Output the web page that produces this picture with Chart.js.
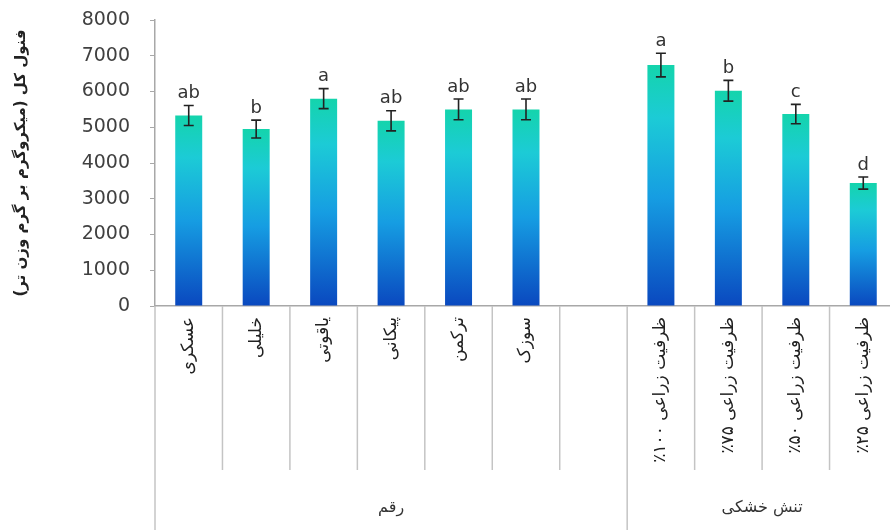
<!DOCTYPE html>
<html>
<head>
<meta charset="utf-8">
<script src="https://cdn.jsdelivr.net/npm/chart.js@4.4.1/dist/chart.umd.min.js"></script>
<style>
    html, body { margin: 0; padding: 0; background: #fff; overflow: hidden; }
    canvas { display: block; direction: rtl; }
</style>
</head>
<body>
<canvas id="phenolChart" width="900" height="530" dir="rtl"></canvas>
<script>
const categories = ['عسکری', 'خلیلی', 'یاقوتی', 'پیکانی', 'ترکمن', 'سوزک', '',
    'ظرفیت زراعی ۱۰۰٪', 'ظرفیت زراعی ۷۵٪', 'ظرفیت زراعی ۵۰٪', 'ظرفیت زراعی ۲۵٪'];
const phenolValues = [5330, 4950, 5800, 5180, 5500, 5500, null, 6740, 6020, 5370, 3440];
const phenolErrors = [280, 250, 280, 280, 290, 290, null, 330, 290, 270, 170];
const letters = ['ab', 'b', 'a', 'ab', 'ab', 'ab', '', 'a', 'b', 'c', 'd'];
const groupNames = ['رقم', 'تنش خشکی'];
const groupFirst = [0, 7];
const groupLast = [6, 10];
const yTitle = 'فنول کل (میکروگرم بر گرم وزن تر)';

const FONT = '"DejaVu Sans", sans-serif';

const barGradient = (c) => {
    const chart = c.chart;
    const v = c.raw;
    if (!chart.chartArea || v == null) return '#1aa8e0';
    const y = chart.scales.y;
    const top = y.getPixelForValue(v);
    const bot = y.getPixelForValue(0);
    const g = chart.ctx.createLinearGradient(0, top, 0, bot);
    g.addColorStop(0, '#14d4ac');
    g.addColorStop(0.22, '#1ccbd6');
    g.addColorStop(0.55, '#169de2');
    g.addColorStop(1, '#0a48bf');
    return g;
};

// error bars, letters, divider lines and group names
const extras = {
    id: 'extras',
    afterDatasetsDraw(chart) {
        const {ctx, scales: {x, y}} = chart;
        ctx.save();
        ctx.strokeStyle = '#222';
        ctx.lineWidth = 1.6;
        ctx.fillStyle = '#333';
        ctx.font = '18px ' + FONT;
        ctx.textAlign = 'center';
        ctx.textBaseline = 'bottom';
        ctx.direction = 'ltr';
        phenolValues.forEach((v, i) => {
            if (v == null) return;
            const px = x.getPixelForValue(i);
            const t = y.getPixelForValue(v + phenolErrors[i]);
            const b = y.getPixelForValue(v - phenolErrors[i]);
            ctx.beginPath();
            ctx.moveTo(px, t); ctx.lineTo(px, b);
            ctx.moveTo(px - 5, t); ctx.lineTo(px + 5, t);
            ctx.moveTo(px - 5, b); ctx.lineTo(px + 5, b);
            ctx.stroke();
            ctx.fillText(letters[i], px, t - 3);
        });
        ctx.restore();
    },
    afterDraw(chart) {
        const {ctx, scales: {x, y}} = chart;
        const half = (x.getPixelForValue(1) - x.getPixelForValue(0)) / 2;
        ctx.save();
        ctx.strokeStyle = '#c4c4c4';
        ctx.lineWidth = 1.5;
        for (let i = 0; i <= categories.length; i++) {
            const bx = i < categories.length ? x.getPixelForValue(i) - half : x.getPixelForValue(i - 1) + half;
            const isLong = groupFirst.includes(i) || i === categories.length;
            ctx.beginPath();
            ctx.moveTo(bx, y.bottom);
            ctx.lineTo(bx, isLong ? chart.height : y.bottom + 164);
            ctx.stroke();
        }
        ctx.fillStyle = '#333';
        ctx.font = '16px ' + FONT;
        ctx.textAlign = 'center';
        ctx.textBaseline = 'middle';
        ctx.direction = 'rtl';
        groupNames.forEach((name, g) => {
            const cx = (x.getPixelForValue(groupFirst[g]) + x.getPixelForValue(groupLast[g])) / 2;
            ctx.fillText(name, cx, 508);
        });
        ctx.restore();
    }
};

new Chart(document.getElementById('phenolChart').getContext('2d'), {
    type: 'bar',
    data: {
        labels: categories,
        datasets: [{
            data: phenolValues,
            backgroundColor: barGradient,
            categoryPercentage: 1,
            barPercentage: 0.4
        }]
    },
    options: {
        responsive: false,
        animation: false,
        devicePixelRatio: 1,
        layout: {padding: {top: 20, right: 3, left: 12, bottom: 0}},
        plugins: {
            legend: {display: false},
            tooltip: {enabled: false}
        },
        scales: {
            x: {
                offset: true,
                grid: {display: false, drawTicks: false},
                border: {color: '#a8a8a8', width: 1.5},
                ticks: {
                    minRotation: 90,
                    maxRotation: 90,
                    autoSkip: false,
                    padding: 11,
                    color: '#222',
                    font: {family: FONT, size: 17}
                },
                afterFit(scale) { scale.height = 224; }
            },
            y: {
                min: 0,
                max: 8000,
                grid: {drawOnChartArea: false, drawTicks: true, tickLength: 5, color: '#a8a8a8'},
                border: {color: '#a8a8a8', width: 1.5},
                ticks: {
                    stepSize: 1000,
                    padding: 20,
                    color: '#404040',
                    font: {family: FONT, size: 19},
                    callback: (v) => String(v)
                },
                title: {
                    display: true,
                    text: yTitle,
                    color: '#222',
                    padding: {top: 0, bottom: 0},
                    font: {family: FONT, size: 15, weight: 'bold'}
                },
                afterFit(scale) {
                    scale.width = 143;
                    scale.paddingTop = 0;
                    scale.paddingBottom = 0;
                }
            }
        }
    },
    plugins: [extras]
});
</script>
</body>
</html>
